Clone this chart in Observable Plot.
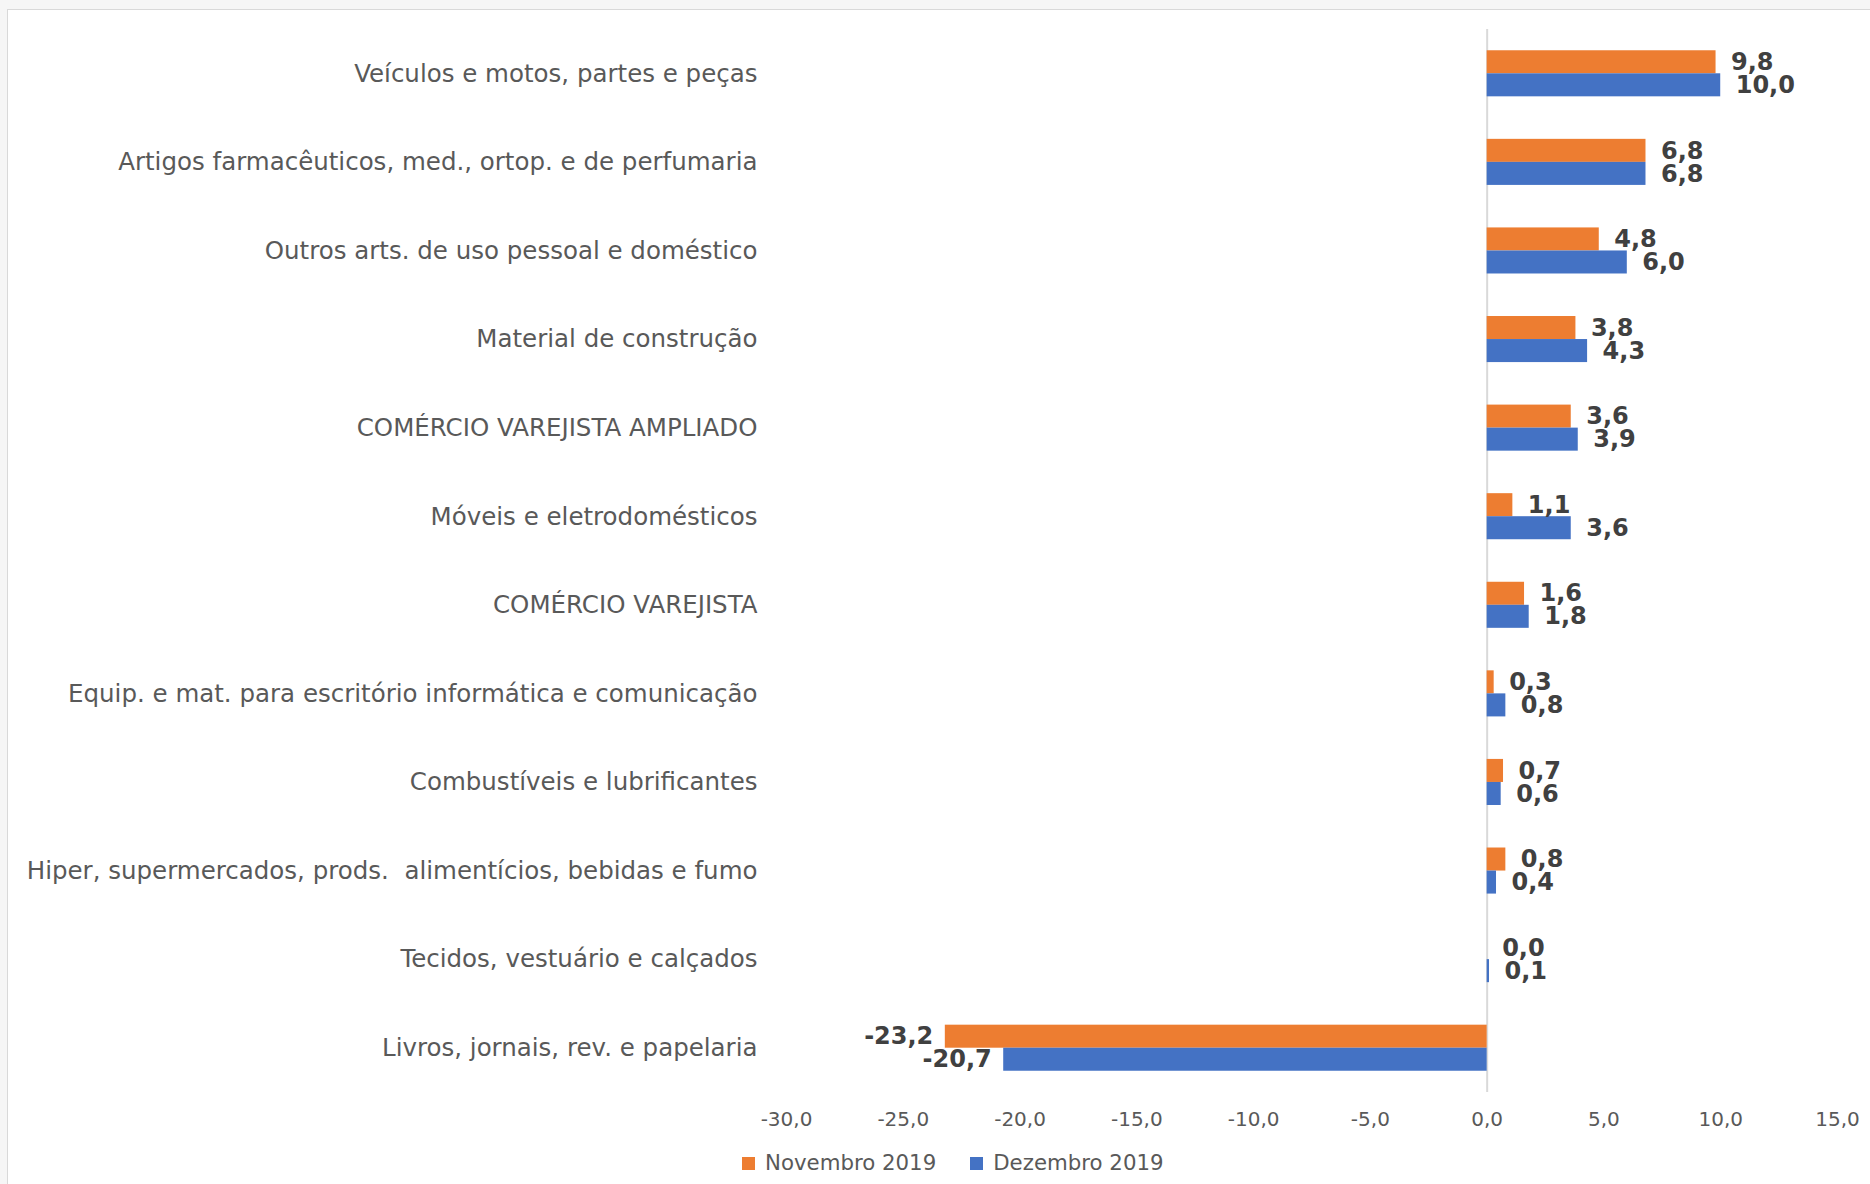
<!DOCTYPE html>
<html>
<head>
<meta charset="utf-8">
<script src="https://cdn.jsdelivr.net/npm/d3@7"></script>
<script src="https://cdn.jsdelivr.net/npm/@observablehq/plot@0.6"></script>
<style>
  html, body { margin: 0; padding: 0; background: #f6f6f6; overflow: hidden; }
  #frame { position: absolute; left: 7px; top: 9px; width: 1900px; height: 1200px; background: #fff; border: 1px solid #d9d9d9; }
  #chart { position: absolute; left: 0; top: 0; }
  #chart svg { display: block; }
  #chart g[aria-label^="y-axis"] text { font-size: 24.5px; }
  .legend { display: flex; align-items: center; margin-top: 12px; margin-left: 742px; font-family: "DejaVu Sans", sans-serif; font-size: 21.3px; color: #595959; line-height: 22px; }
  .legend .item { display: flex; align-items: center; margin-right: 34px; }
  .legend .sw { width: 13px; height: 13px; margin-right: 10px; }
</style>
</head>
<body>
<div id="frame"></div>
<div id="chart"></div>
<script>
const categories = [
  "Veículos e motos, partes e peças",
  "Artigos farmacêuticos, med., ortop. e de perfumaria",
  "Outros arts. de uso pessoal e doméstico",
  "Material de construção",
  "COMÉRCIO VAREJISTA AMPLIADO",
  "Móveis e eletrodomésticos",
  "COMÉRCIO VAREJISTA",
  "Equip. e mat. para escritório informática e comunicação",
  "Combustíveis e lubrificantes",
  "Hiper, supermercados, prods.  alimentícios, bebidas e fumo",
  "Tecidos, vestuário e calçados",
  "Livros, jornais, rev. e papelaria"
];
const series = ["Novembro 2019", "Dezembro 2019"];
const novembro = [9.8, 6.8, 4.8, 3.8, 3.6, 1.1, 1.6, 0.3, 0.7, 0.8, 0.0, -23.2];
const dezembro = [10.0, 6.8, 6.0, 4.3, 3.9, 3.6, 1.8, 0.8, 0.6, 0.4, 0.1, -20.7];
const xTicks = [-30, -25, -20, -15, -10, -5, 0, 5, 10, 15];
const colors = ["#ED7D31", "#4472C4"];

const fmt = v => v.toFixed(1).replace(".", ",");

const data = [];
categories.forEach((c, i) => {
  data.push({category: c, series: series[0], value: novembro[i]});
  data.push({category: c, series: series[1], value: dezembro[i]});
});

const W = 1870, H = 1140, mt = 29, mb = 48, ml = 786, mr = 33;
const pIn = 0.48, pOut = 0.24;
const step = (H - mt - mb) / (categories.length - pIn + 2 * pOut);
const half = step * (1 - pIn) / 2;

const nov = data.filter(d => d.series === series[0]);
const dez = data.filter(d => d.series === series[1]);

const labelStyle = {fontSize: 24, fontWeight: "bold", fill: "#404040", fontFamily: "DejaVu Sans"};

function labels(rows, dy) {
  return [
    Plot.text(rows.filter(d => d.value >= 0), {x: "value", y: "category", text: d => fmt(d.value), dx: 15, dy, textAnchor: "start", ...labelStyle}),
    Plot.text(rows.filter(d => d.value < 0), {x: "value", y: "category", text: d => fmt(d.value), dx: -12, dy, textAnchor: "end", ...labelStyle})
  ];
}

const chart = Plot.plot({
  width: W, height: H,
  marginLeft: ml, marginRight: mr, marginTop: mt, marginBottom: mb,
  style: {background: "transparent", fontFamily: "DejaVu Sans", fontSize: "20px", color: "#595959"},
  x: {domain: [-30, 15], ticks: xTicks, tickFormat: fmt, tickSize: 0, tickPadding: 19, label: null},
  y: {domain: categories, paddingInner: pIn, paddingOuter: pOut, round: false, tickSize: 0, tickPadding: 29, label: null},
  marks: [
    Plot.ruleX([0], {stroke: "#d9d9d9", strokeWidth: 2}),
    Plot.barX(nov, {x: "value", y: "category", fill: colors[0], insetBottom: half}),
    Plot.barX(dez, {x: "value", y: "category", fill: colors[1], insetTop: half}),
    ...labels(nov, -half / 2),
    ...labels(dez, half / 2)
  ]
});

const root = document.getElementById("chart");
root.appendChild(chart);

const legend = document.createElement("div");
legend.className = "legend";
series.forEach((s, i) => {
  const item = document.createElement("div");
  item.className = "item";
  const sw = document.createElement("span");
  sw.className = "sw";
  sw.style.background = colors[i];
  const t = document.createElement("span");
  t.textContent = s;
  item.appendChild(sw);
  item.appendChild(t);
  legend.appendChild(item);
});
root.appendChild(legend);
</script>
</body>
</html>
